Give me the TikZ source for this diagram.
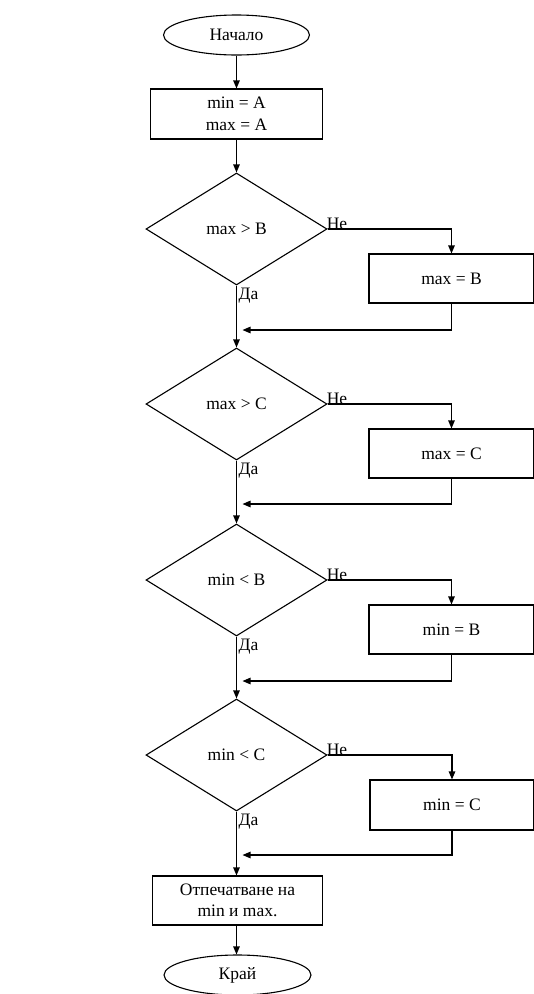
\documentclass[tikz,border=0pt]{standalone}
\usepackage{fontspec}
\setmainfont{Liberation Serif}
\usetikzlibrary{shapes.geometric,arrows.meta}
\begin{document}
\begin{tikzpicture}[x=1pt,y=-1pt,
  every node/.style={font=\fontsize{17.5}{21.5}\selectfont},
  arr/.style={line width=1.1pt,-{Triangle[length=8pt,width=6.5pt]}},
  term/.style={draw,line width=1.1pt,ellipse,minimum width=146pt,minimum height=40pt,inner sep=0pt},
  proc/.style={draw,line width=1.1pt,rectangle,align=center,inner sep=0pt},
  dec/.style={draw,line width=1.1pt,diamond,minimum width=181pt,minimum height=112pt,inner sep=0pt,aspect=1.6},
  lbl/.style={inner sep=1pt,font=\fontsize{17.5}{20}\selectfont}]
\useasboundingbox (0,0) rectangle (534,994);
\node[term] (start) at (236.5,35) {Начало};
\node[proc,minimum width=172pt,minimum height=50pt] (init) at (236.5,114) {min = A\\max = A};
\node[dec] (d1) at (236.5,229) {max > B};
\node[dec] (d2) at (236.5,404) {max > C};
\node[dec] (d3) at (236.5,580) {min < B};
\node[dec] (d4) at (236.5,755) {min < C};
\node[proc,minimum width=165pt,minimum height=49pt] (b1) at (451.5,278.5) {max = B};
\node[proc,minimum width=165pt,minimum height=49pt] (b2) at (451.5,453.5) {max = C};
\node[proc,minimum width=165pt,minimum height=49pt] (b3) at (451.5,629.5) {min = B};
\node[proc,minimum width=164pt,minimum height=50pt] (b4) at (452,805) {min = C};
\node[proc,minimum width=170pt,minimum height=49pt] (out) at (237.5,900.5) {Отпечатване на\\min и max.};
\node[term,minimum width=147pt] (end) at (237.5,975) {Край};
\coordinate (r1) at (242.5,330);
\coordinate (r2) at (242.5,504);
\coordinate (r3) at (242.5,681);
\coordinate (r4) at (242.5,855);
\draw[arr] (start) -- (init);
\draw[arr] (init) -- (d1);
\draw[arr] (d1.south) -- (d2.north);
\draw[arr] (d2.south) -- (d3.north);
\draw[arr] (d3.south) -- (d4.north);
\draw[arr] (d4.south) -- (d4.south |- out.north);
\draw[arr] (out.south -| d4.south) -- (end.north -| d4.south);
\foreach \i in {1,2,3,4} {
  \draw[arr] (d\i.east) -| (b\i.north);
  \draw[arr] (b\i.south) |- (r\i);
  \node[lbl,anchor=south west] (ne\i) at ([xshift=-2pt,yshift=-2pt]d\i.east) {Не};
  \node[lbl,anchor=north west] (da\i) at ([xshift=1pt,yshift=-1pt]d\i.south) {Да};
}
\end{tikzpicture}
\end{document}
